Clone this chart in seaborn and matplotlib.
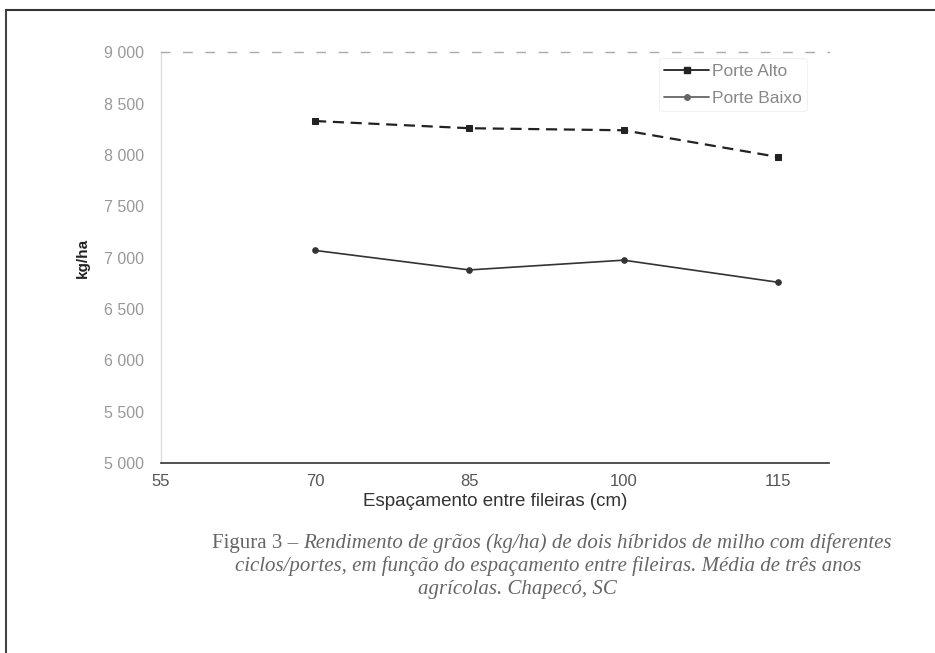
import matplotlib
matplotlib.use("Agg")
import matplotlib.pyplot as plt
import seaborn as sns
import pandas as pd
from matplotlib.lines import Line2D
from matplotlib.ticker import FuncFormatter

spacing = [70, 85, 100, 115]
porte_alto = [8330, 8260, 8240, 7980]
porte_baixo = [7070, 6880, 6975, 6760]
series_names = ["Porte Alto", "Porte Baixo"]
x_ticks = [55, 70, 85, 100, 115]
y_ticks = [5000, 5500, 6000, 6500, 7000, 7500, 8000, 8500, 9000]
caption_lead = "Figura 3 – "
caption_line1 = "Rendimento de grãos (kg/ha) de dois híbridos de milho com diferentes"
caption_line2 = "ciclos/portes, em função do espaçamento entre fileiras. Média de três anos"
caption_line3 = "agrícolas. Chapecó, SC"

df = pd.DataFrame({
    "x": spacing * 2,
    "y": porte_alto + porte_baixo,
    "serie": [series_names[0]] * 4 + [series_names[1]] * 4,
})

sns.set_theme(style="white")
plt.rcParams["font.family"] = ["Liberation Sans", "DejaVu Sans"]

fig = plt.figure(figsize=(9.35, 6.53), dpi=100)
ax = fig.add_axes([0.172, 0.291, 0.715, 0.629])

dark = "#222222"
sns.lineplot(data=df[df.serie == series_names[0]], x="x", y="y", ax=ax,
             color=dark, lw=1.6, linestyle=(0, (5, 3)), marker="s", markersize=5,
             markeredgecolor=dark, legend=False)
sns.lineplot(data=df[df.serie == series_names[1]], x="x", y="y", ax=ax,
             color="#333333", lw=1.2, marker="o", markersize=4,
             markeredgecolor="#333333", legend=False)

ax.set_xlim(55, 120)
ax.set_ylim(5000, 9000)
ax.set_xticks(x_ticks)
ax.set_yticks(y_ticks)
ax.yaxis.set_major_formatter(FuncFormatter(lambda v, p: f"{int(v):,}".replace(",", " ")))
ax.tick_params(axis="x", colors="#555555", labelsize=12, length=0, pad=8)
ax.tick_params(axis="y", colors="#999999", labelsize=11.5, length=0, pad=12)
for lab in ax.get_xticklabels():
    lab.set_color("#555555")

ax.spines["right"].set_visible(False)
ax.spines["top"].set_color("#aaaaaa")
ax.spines["top"].set_linestyle((0, (6, 10)))
ax.spines["top"].set_linewidth(1.0)
ax.spines["left"].set_color("#dddddd")
ax.spines["left"].set_linewidth(1.0)
ax.spines["bottom"].set_color("#333333")
ax.spines["bottom"].set_linewidth(1.2)

ax.set_xlabel("Espaçamento entre fileiras (cm)", fontsize=13.5, color="#333333",
              labelpad=3)
ax.set_ylabel("kg/ha", fontsize=11, color="#222222", fontweight="bold", labelpad=10)

handles = [
    Line2D([], [], color=dark, lw=1.3, marker="s", markersize=4),
    Line2D([], [], color="#666666", lw=1.3, marker="o", markersize=4),
]
leg = ax.legend(handles, series_names, loc="upper left", bbox_to_anchor=(0.745, 0.985),
                frameon=True, fontsize=12.5, handlelength=2.6, handletextpad=0.15,
                labelspacing=0.7, borderpad=0.3, borderaxespad=0)
leg.get_frame().set_edgecolor("#eeeeee")
leg.get_frame().set_linewidth(0.8)
for t in leg.get_texts():
    t.set_color("#888888")

# outer frame of the scanned figure
fig.add_artist(Line2D([0.006, 0.006], [0.0, 0.985], transform=fig.transFigure,
                      color="#444444", lw=1.5))
fig.add_artist(Line2D([0.006, 1.0], [0.985, 0.985], transform=fig.transFigure,
                      color="#333333", lw=1.5))

cap_font = ["Liberation Serif", "DejaVu Serif"]
cap_size = 15
cap_color = "#666666"
renderer = fig.canvas.get_renderer()
t_lead = fig.text(0, 0.168, caption_lead, fontsize=cap_size, color=cap_color,
                  family=cap_font, ha="left", va="center")
t_rest = fig.text(0, 0.168, caption_line1, fontsize=cap_size, color=cap_color,
                  family=cap_font, style="italic", ha="left", va="center")
w_lead = t_lead.get_window_extent(renderer).width / fig.bbox.width
w_rest = t_rest.get_window_extent(renderer).width / fig.bbox.width
x0 = 0.59 - (w_lead + w_rest) / 2
t_lead.set_x(x0)
t_rest.set_x(x0 + w_lead)
fig.text(0.586, 0.133, caption_line2, fontsize=cap_size, color=cap_color,
         family=cap_font, style="italic", ha="center", va="center")
fig.text(0.553, 0.098, caption_line3, fontsize=cap_size, color=cap_color,
         family=cap_font, style="italic", ha="center", va="center")

fig.savefig("out.png", dpi=100, facecolor="white")
